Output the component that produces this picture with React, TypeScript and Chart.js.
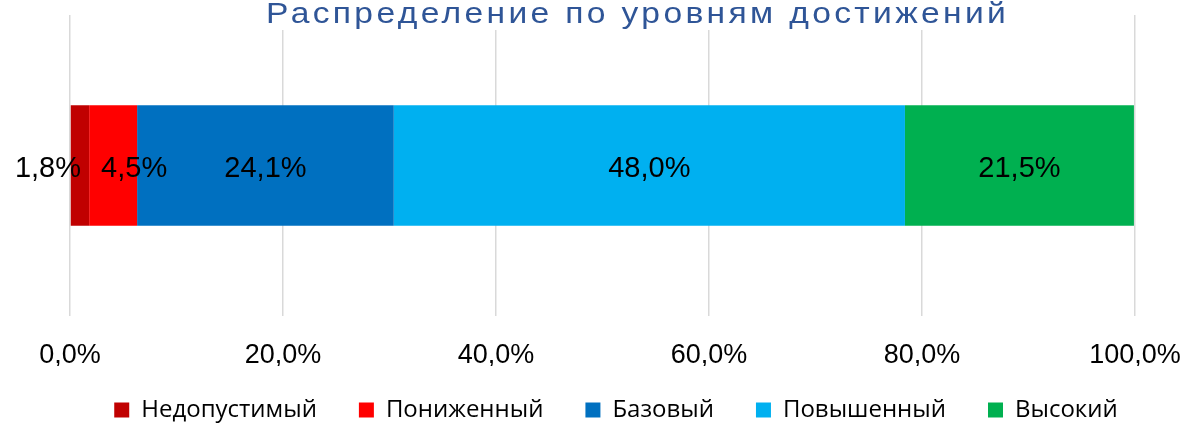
import React, { useEffect, useRef } from "react";
import { Chart, registerables } from "chart.js";

Chart.register(...registerables);

const categories = ["Уровень"];
const seriesNames = ["Недопустимый", "Пониженный", "Базовый", "Повышенный", "Высокий"];
const seriesValues = [1.8, 4.5, 24.1, 48.0, 21.5];
const seriesColors = ["#C00000", "#FF0000", "#0070C0", "#00B0F0", "#00B050"];
const labelShift = [-32, 21, 0, 0, 0];
const titleText = "Распределение по уровням достижений";
const xTickValues = [0, 20, 40, 60, 80, 100];

const fmt = (v: number) => v.toFixed(1).replace(".", ",") + "%";

const labelPlugin = {
  id: "segLabels",
  afterDatasetsDraw(chart: any) {
    const ctx = chart.ctx;
    ctx.save();
    ctx.font = "29px 'Liberation Sans', Arial, sans-serif";
    ctx.fillStyle = "#000000";
    ctx.textAlign = "center";
    ctx.textBaseline = "middle";
    chart.data.datasets.forEach((ds: any, i: number) => {
      const meta = chart.getDatasetMeta(i);
      meta.data.forEach((el: any, j: number) => {
        const p = el.getProps(["x", "y", "base"], true);
        const cx = (p.x + p.base) / 2 + labelShift[i];
        ctx.fillText(fmt(ds.data[j]), cx, p.y + 3);
      });
    });
    ctx.restore();
  },
};

const titlePlugin = {
  id: "customTitle",
  afterDraw(chart: any) {
    const ctx = chart.ctx;
    ctx.save();
    ctx.font = "30px 'Liberation Sans', Arial, sans-serif";
    const sx = 1.12;
    const w = ctx.measureText(titleText).width * sx;
    const target = 740;
    const n = titleText.length;
    const sp = Math.max(0, (target - w) / (n - 1)) / sx;
    const cx = 636;
    ctx.fillStyle = "#ffffff";
    ctx.fillRect(cx - target / 2 - 6, 0, target + 12, 30);
    (ctx as any).letterSpacing = sp.toFixed(2) + "px";
    ctx.translate(cx - target / 2, 23);
    ctx.scale(sx, 1);
    ctx.fillStyle = "#2F5597";
    ctx.textAlign = "left";
    ctx.textBaseline = "alphabetic";
    ctx.fillText(titleText, 0, 0);
    ctx.restore();
  },
};

const legendShift = {
  id: "legendShift",
  afterLayout(chart: any) {
    const lg = chart.legend;
    if (lg) {
      lg.left += 22;
      lg.right += 22;
      lg.top -= 10;
      lg.bottom -= 10;
    }
  },
};

export default function App() {
  const ref = useRef<HTMLCanvasElement | null>(null);
  useEffect(() => {
    if (!ref.current) return;
    const chart = new Chart(ref.current, {
      type: "bar",
      data: {
        labels: categories,
        datasets: seriesNames.map((n, i) => ({
          label: n,
          data: [seriesValues[i]],
          backgroundColor: seriesColors[i],
          borderWidth: 0,
          barPercentage: 1,
          categoryPercentage: 0.4,
        })),
      },
      options: {
        indexAxis: "y",
        responsive: false,
        animation: false,
        layout: { padding: { left: 0, right: 0, top: 15, bottom: -19 } },
        scales: {
          x: {
            stacked: true,
            min: 0,
            max: 100,
            border: { display: false },
            grid: { color: "#D9D9D9", lineWidth: 1.5, drawTicks: true, tickLength: 20, tickColor: "rgba(0,0,0,0)" },
            afterBuildTicks: (scale: any) => {
              scale.ticks = xTickValues.map((v) => ({ value: v }));
            },
            afterFit: (scale: any) => {
              scale.height = 50;
              scale.paddingLeft = 70;
              scale.paddingRight = 53;
            },
            ticks: {
              padding: 3,
              color: "#000000",
              font: { family: "'Liberation Sans', Arial", size: 27 },
              callback: (v: any) => fmt(Number(v)),
            },
          },
          y: {
            stacked: true,
            display: false,
          },
        },
        plugins: {
          title: { display: false },
          tooltip: { enabled: false },
          legend: {
            position: "bottom",
            labels: {
              boxWidth: 15,
              boxHeight: 15,
              padding: 42,
              color: "#000000",
              font: { family: "'Open Sans', 'Noto Sans', sans-serif", size: 24 },
            },
          },
        },
      },
      plugins: [labelPlugin, titlePlugin, legendShift],
    } as any);
    return () => chart.destroy();
  }, []);
  return (
    <div style={{ position: "absolute", left: 0, top: 0, width: 1188, height: 423, background: "#fff" }}>
      <canvas ref={ref} width={1188} height={423} style={{ display: "block" }} />
    </div>
  );
}
